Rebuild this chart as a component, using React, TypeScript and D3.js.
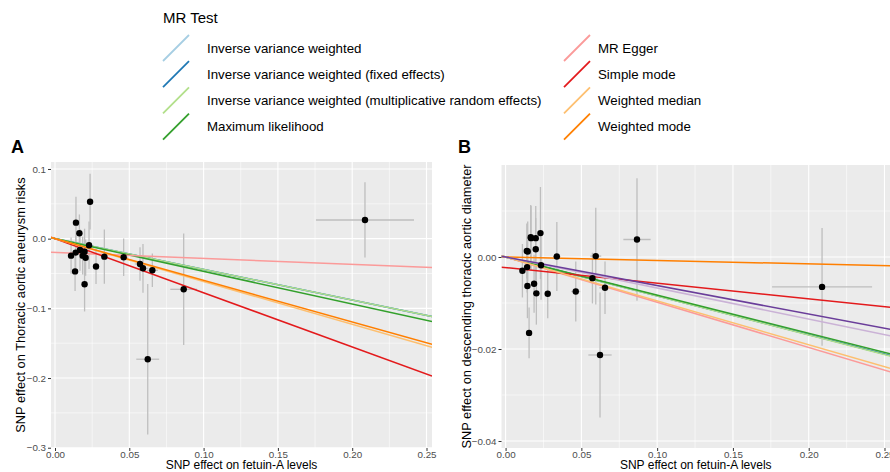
import React, { useEffect, useRef } from "react";
import * as d3 from "d3";

// panel A: SNP effects on fetuin-A (x) and thoracic aortic aneurysm risk (y)
const aBetaX = [0.0108, 0.0135, 0.0141, 0.0139, 0.0164, 0.0168, 0.0186, 0.0199, 0.0206, 0.0199, 0.0229, 0.0236, 0.0276, 0.0332, 0.0462, 0.0572, 0.0592, 0.0624, 0.0655, 0.0866, 0.2086];
const aBetaY = [-0.0244, -0.047, 0.023, -0.020, 0.0077, -0.0162, -0.0244, -0.0655, -0.0273, -0.0187, -0.0095, 0.053, -0.040, -0.0258, -0.0267, -0.0363, -0.0425, -0.173, -0.0454, -0.0727, 0.0268];
const aSeX = [0.0012, 0.0014, 0.0015, 0.0013, 0.0015, 0.0016, 0.0016, 0.0017, 0.0018, 0.0017, 0.0019, 0.0019, 0.0021, 0.0024, 0.003, 0.0035, 0.0036, 0.0077, 0.0038, 0.009, 0.033];
const aSeY = [0.026, 0.028, 0.037, 0.024, 0.027, 0.03, 0.027, 0.039, 0.026, 0.033, 0.034, 0.04, 0.025, 0.039, 0.027, 0.024, 0.035, 0.108, 0.024, 0.080, 0.054];

// panel B: SNP effects on fetuin-A (x) and descending thoracic aortic diameter (y)
const bBetaX = [0.0111, 0.0140, 0.0146, 0.0142, 0.0144, 0.0155, 0.0166, 0.0168, 0.0188, 0.0199, 0.0199, 0.0203, 0.0230, 0.0234, 0.0278, 0.0338, 0.0463, 0.0573, 0.0595, 0.0623, 0.0656, 0.0867, 0.2088];
const bBetaY = [-0.0030, 0.0013, 0.0012, -0.0022, -0.0063, -0.0165, 0.0043, 0.0041, -0.0058, 0.0041, 0.0017, -0.0079, 0.0052, -0.0018, -0.0080, 0.0001, -0.0075, -0.0046, 0.0002, -0.0213, -0.0067, 0.0038, -0.0065];
const bSeX = [0.0012, 0.0014, 0.0015, 0.0013, 0.0015, 0.0016, 0.0016, 0.0016, 0.0017, 0.0018, 0.0017, 0.0019, 0.0019, 0.0019, 0.0021, 0.0024, 0.003, 0.0035, 0.0036, 0.0077, 0.0038, 0.009, 0.033];
const bSeY = [0.0058, 0.006, 0.0065, 0.0055, 0.007, 0.0055, 0.007, 0.007, 0.0063, 0.007, 0.0068, 0.0068, 0.010, 0.0075, 0.0053, 0.0075, 0.0065, 0.0055, 0.0105, 0.0136, 0.0057, 0.0133, 0.0128];

// MR methods (legend) with slopes / intercepts per panel
const methodsA = [
  "Inverse variance weighted",
  "Inverse variance weighted (fixed effects)",
  "Inverse variance weighted (multiplicative random effects)",
  "Maximum likelihood",
  "MR Egger",
  "Simple mode",
  "Weighted median",
  "Weighted mode",
];
const slopesA = [-0.441, -0.441, -0.441, -0.469, -0.0858, -0.777, -0.615, -0.598];
const interceptsA = [0, 0, 0, 0, -0.0198, 0, 0, 0];

const methodsB = [
  "Inverse variance weighted",
  "Inverse variance weighted (fixed effects)",
  "Inverse variance weighted (multiplicative random effects)",
  "Maximum likelihood",
  "Weighted median",
  "MR Egger",
  "Penalised weighted median",
  "Weighted mode",
  "Simple median",
  "Simple mode",
];
const slopesB = [-0.0845, -0.0845, -0.0848, -0.083, -0.0983, -0.034, -0.0954, -0.0075, -0.0674, -0.062];
const interceptsB = [0, 0, 0, 0, 0, -0.0023, 0, 0, 0, 0];

const xTicks = [0, 0.05, 0.1, 0.15, 0.2, 0.25];
const aYTicks = [0.1, 0, -0.1, -0.2, -0.3];
const bYTicks = [0, -0.02, -0.04];

const palette = ["#A6CEE3", "#1F78B4", "#B2DF8A", "#33A02C", "#FB9A99", "#E31A1C", "#FDBF6F", "#FF7F00", "#CAB2D6", "#6A3D9A"];
const FONT = "'Liberation Sans', Arial, sans-serif";

const App = () => {
  const svgRef = useRef<SVGSVGElement>(null);

  useEffect(() => {
    const width = 890;
    const height = 472;
    const svg = d3.select(svgRef.current).attr("width", width).attr("height", height);
    svg.selectAll("*").remove();
    svg.append("rect").attr("width", width).attr("height", height).attr("fill", "white");

    const drawPanel = (opts: any) => {
      const { id, left, right, top, bottom, yDomain, yTicks, yFmt, yMinor, xs, ys, sxs, sys, slopes, intercepts, yTitle, letter, letterX, yTitleX } = opts;
      const x = d3.scaleLinear().domain([-0.0027, 0.2537]).range([left, right]);
      const y = d3.scaleLinear().domain(yDomain).range([bottom, top]);
      const g = svg.append("g");

      g.append("clipPath").attr("id", id).append("rect")
        .attr("x", left).attr("y", top).attr("width", right - left).attr("height", bottom - top);

      g.append("rect").attr("x", left).attr("y", top).attr("width", right - left).attr("height", bottom - top).attr("fill", "#EBEBEB");

      const xMinor = d3.range(0.025, 0.25, 0.05);
      const grid = g.append("g").attr("clip-path", `url(#${id})`);
      grid.selectAll(".xminor").data(xMinor).join("line")
        .attr("x1", d => x(d)).attr("x2", d => x(d)).attr("y1", top).attr("y2", bottom)
        .attr("stroke", "white").attr("stroke-width", 0.55);
      grid.selectAll(".yminor").data(yMinor).join("line")
        .attr("y1", d => y(d)).attr("y2", d => y(d)).attr("x1", left).attr("x2", right)
        .attr("stroke", "white").attr("stroke-width", 0.55);
      grid.selectAll(".xmajor").data(xTicks).join("line")
        .attr("x1", d => x(d)).attr("x2", d => x(d)).attr("y1", top).attr("y2", bottom)
        .attr("stroke", "white").attr("stroke-width", 1.1);
      grid.selectAll(".ymajor").data(yTicks).join("line")
        .attr("y1", d => y(d)).attr("y2", d => y(d)).attr("x1", left).attr("x2", right)
        .attr("stroke", "white").attr("stroke-width", 1.1);

      const idx = d3.range(xs.length);
      const marks = g.append("g").attr("clip-path", `url(#${id})`);
      marks.selectAll(".ev").data(idx).join("line")
        .attr("x1", i => x(xs[i])).attr("x2", i => x(xs[i]))
        .attr("y1", i => y(ys[i] - sys[i])).attr("y2", i => y(ys[i] + sys[i]))
        .attr("stroke", "#bebebe").attr("stroke-width", 1.3);
      marks.selectAll(".eh").data(idx).join("line")
        .attr("y1", i => y(ys[i])).attr("y2", i => y(ys[i]))
        .attr("x1", i => x(xs[i] - sxs[i])).attr("x2", i => x(xs[i] + sxs[i]))
        .attr("stroke", "#bebebe").attr("stroke-width", 1.3);

      const [x0, x1] = x.domain();
      marks.selectAll(".abline").data(d3.range(slopes.length)).join("line")
        .attr("x1", x(x0)).attr("x2", x(x1))
        .attr("y1", i => y(intercepts[i] + slopes[i] * x0))
        .attr("y2", i => y(intercepts[i] + slopes[i] * x1))
        .attr("stroke", i => palette[i]).attr("stroke-width", 1.5);

      marks.selectAll(".pt").data(idx).join("circle")
        .attr("cx", i => x(xs[i])).attr("cy", i => y(ys[i])).attr("r", 3.2).attr("fill", "black");

      // axes
      const xa = g.append("g").attr("transform", `translate(0,${bottom})`)
        .call(d3.axisBottom(x).tickValues(xTicks).tickFormat(d3.format(".2f")).tickSize(3).tickPadding(0.5));
      const ya = g.append("g").attr("transform", `translate(${left},0)`)
        .call(d3.axisLeft(y).tickValues(yTicks).tickFormat(yFmt).tickSize(3).tickPadding(2));
      [xa, ya].forEach(a => {
        a.select(".domain").remove();
        a.selectAll(".tick line").attr("stroke", "#333333").attr("stroke-width", 1);
        a.selectAll(".tick text").attr("fill", "#4D4D4D").style("font-family", FONT).style("font-size", "9.8px");
      });

      g.append("text").attr("x", (left + Math.min(right, 890)) / 2).attr("y", 469.4)
        .attr("text-anchor", "middle").style("font-family", FONT).style("font-size", "12px")
        .text("SNP effect on fetuin-A levels");
      g.append("text").attr("transform", `translate(${yTitleX},${(top + bottom) / 2}) rotate(-90)`)
        .attr("text-anchor", "middle").style("font-family", FONT).style("font-size", "12.8px")
        .text(yTitle);
      g.append("text").attr("x", letterX).attr("y", 153)
        .style("font-family", FONT).style("font-size", "18px").style("font-weight", "bold")
        .text(letter);
    };

    drawPanel({
      id: "clipA", left: 51, right: 432, top: 162, bottom: 448,
      yDomain: [-0.3004, 0.110], yTicks: aYTicks, yFmt: d3.format(".1f"), yMinor: [0.05, -0.05, -0.15, -0.25],
      xs: aBetaX, ys: aBetaY, sxs: aSeX, sys: aSeY, slopes: slopesA, intercepts: interceptsA,
      yTitle: "SNP effect on Thoracic aortic aneurysm risks", letter: "A", letterX: 11, yTitleX: 25,
    });
    drawPanel({
      id: "clipB", left: 501.5, right: 890.1, top: 165, bottom: 448,
      yDomain: [-0.04152, 0.020], yTicks: bYTicks, yFmt: (d: number) => d3.format(".2f")(d).replace("-", "\u2212"), yMinor: [0.01, -0.01, -0.03],
      xs: bBetaX, ys: bBetaY, sxs: bSeX, sys: bSeY, slopes: slopesB, intercepts: interceptsB,
      yTitle: "SNP effect on descending thoracic aortic diameter", letter: "B", letterX: 458, yTitleX: 471,
    });

    // legend
    const lg = svg.append("g");
    lg.append("text").attr("x", 163).attr("y", 23).style("font-family", FONT).style("font-size", "15px").text("MR Test");
    const items = methodsA.map((m, i) => ({ m, i, col: i < 4 ? 0 : 1, row: i % 4 }));
    const colKeyX = [163, 564];
    const colTextX = [207, 598];
    const rowY = (r: number) => 48 + r * 26.2;
    lg.selectAll(".key").data(items).join("line")
      .attr("x1", d => colKeyX[d.col]).attr("y1", d => rowY(d.row) + 13)
      .attr("x2", d => colKeyX[d.col] + 26).attr("y2", d => rowY(d.row) - 13)
      .attr("stroke", d => palette[d.i]).attr("stroke-width", 1.8);
    lg.selectAll(".lab").data(items).join("text")
      .attr("x", d => colTextX[d.col]).attr("y", d => rowY(d.row) + 4.6)
      .style("font-family", FONT).style("font-size", "13.3px")
      .text(d => d.m);
  }, []);

  return <svg ref={svgRef} style={{ position: "absolute", left: 0, top: 0 }} />;
};

export default App;
